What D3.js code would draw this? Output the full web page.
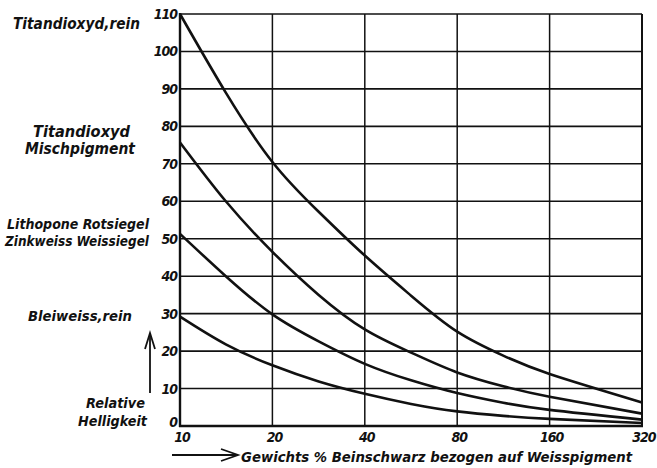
<!DOCTYPE html>
<html><head><meta charset="utf-8">
<script src="https://cdn.jsdelivr.net/npm/d3@7"></script>
<style>
body{margin:0;background:#fff;}
text{font-family:"DejaVu Sans Condensed","DejaVu Sans",sans-serif;font-style:oblique;fill:#111;}
</style></head><body>
<svg id="c" width="657" height="468"></svg>
<script>
const xTicks = [10, 20, 40, 80, 160, 320];
const yTicks = [0, 10, 20, 30, 40, 50, 60, 70, 80, 90, 100, 110];
const xSamples = [10, 14.1, 20, 28.3, 40, 56.6, 80, 113, 160, 320];
const titanRein = [110, 89, 70.5, 57.2, 45.5, 34.8, 25.2, 18.8, 13.9, 6.3];
const titanMisch = [75.7, 60, 46.5, 35, 25.8, 19.6, 14.3, 10.6, 7.8, 3.3];
const lithopone = [51.3, 40, 29.8, 22.6, 16.6, 12.2, 8.8, 6.2, 4.3, 1.7];
const bleiweiss = [29.2, 21.8, 16.2, 11.9, 8.6, 5.9, 3.9, 2.7, 1.9, 0.8];
const seriesList = [titanRein, titanMisch, lithopone, bleiweiss];

const svg = d3.select("#c");
const x = d3.scaleLog().base(2).domain([10, 320]).range([180, 642]);
const y = d3.scaleLinear().domain([0, 110]).range([426, 14]);

// grid
svg.append("g").selectAll("line").data(yTicks).join("line")
  .attr("x1", x(10)).attr("x2", x(320)).attr("y1", d => y(d)).attr("y2", d => y(d))
  .attr("stroke", "#111").attr("stroke-width", 1.6);
svg.append("g").selectAll("line").data(xTicks).join("line")
  .attr("y1", y(0)).attr("y2", y(110)).attr("x1", d => x(d)).attr("x2", d => x(d))
  .attr("stroke", "#111").attr("stroke-width", 1.5);
// axes frame heavier
svg.append("line").attr("x1", x(10)).attr("x2", x(10)).attr("y1", y(0)+1).attr("y2", y(110)-1).attr("stroke","#111").attr("stroke-width",2.4);
svg.append("line").attr("x1", x(10)-1).attr("x2", x(320)+1).attr("y1", y(0)).attr("y2", y(0)).attr("stroke","#111").attr("stroke-width",2.4);
svg.append("line").attr("x1", x(320)).attr("x2", x(320)).attr("y1", y(0)).attr("y2", y(110)).attr("stroke","#111").attr("stroke-width",2);

// y tick labels
svg.append("g").selectAll("text").data(yTicks).join("text")
  .attr("x", x(10) - 3).attr("y", d => d === 0 ? y(d) + 1 : y(d) + 5).attr("text-anchor", "end")
  .attr("font-size", 14).attr("font-weight", "bold").attr("letter-spacing", -1).text(d => d);
// x tick labels
svg.append("g").selectAll("text").data(xTicks).join("text")
  .attr("x", d => x(d) + 2).attr("y", y(0) + 16).attr("text-anchor", "middle")
  .attr("font-size", 14).attr("font-weight", "bold").attr("letter-spacing", -1).text(d => d);

// curves
const line = d3.line().x((d, i) => x(xSamples[i])).y(d => y(d)).curve(d3.curveNatural);
svg.append("g").selectAll("path").data(seriesList).join("path")
  .attr("d", line).attr("fill", "none").attr("stroke", "#111").attr("stroke-width", 2.6);

// left labels: shrink font if natural width exceeds target, then fit exactly
const fitText = (sel, target, baseSize) => {
  sel.attr("font-size", baseSize);
  const w = sel.node().getComputedTextLength();
  if (w > target) sel.attr("font-size", baseSize * target / w);
  sel.attr("textLength", target).attr("lengthAdjust", "spacingAndGlyphs");
  return sel;
};
const lab = (t, x0, x1, yy) => fitText(svg.append("text").attr("x", x0).attr("y", yy)
  .attr("font-weight", "bold").text(t), x1 - x0, 15.5);
lab("Titandioxyd,rein", 13, 140, 29);
lab("Titandioxyd", 33, 130, 137);
lab("Mischpigment", 25, 135, 154);
lab("Lithopone Rotsiegel", 7, 149, 229);
lab("Zinkweiss Weissiegel", 5, 149, 246);
lab("Bleiweiss,rein", 28, 132, 321);
lab("Relative", 86, 145, 408);
lab("Helligkeit", 78, 147, 426);

// vertical arrow
svg.append("line").attr("x1", 150).attr("x2", 150).attr("y1", 393).attr("y2", 336).attr("stroke", "#111").attr("stroke-width", 1.8);
svg.append("path").attr("d", "M145,349 L150,333 L155,349").attr("fill", "none").attr("stroke", "#111").attr("stroke-width", 1.8);

// x axis title with arrow
svg.append("line").attr("x1", 172).attr("x2", 236).attr("y1", 455).attr("y2", 455).attr("stroke", "#111").attr("stroke-width", 1.8);
svg.append("path").attr("d", "M221,449 L238,455 L221,461").attr("fill", "none").attr("stroke", "#111").attr("stroke-width", 1.8);
fitText(svg.append("text").attr("x", 241).attr("y", 462).attr("font-weight", "bold")
  .text("Gewichts % Beinschwarz bezogen auf Weisspigment"), 391, 15.5);
</script>
</body></html>
